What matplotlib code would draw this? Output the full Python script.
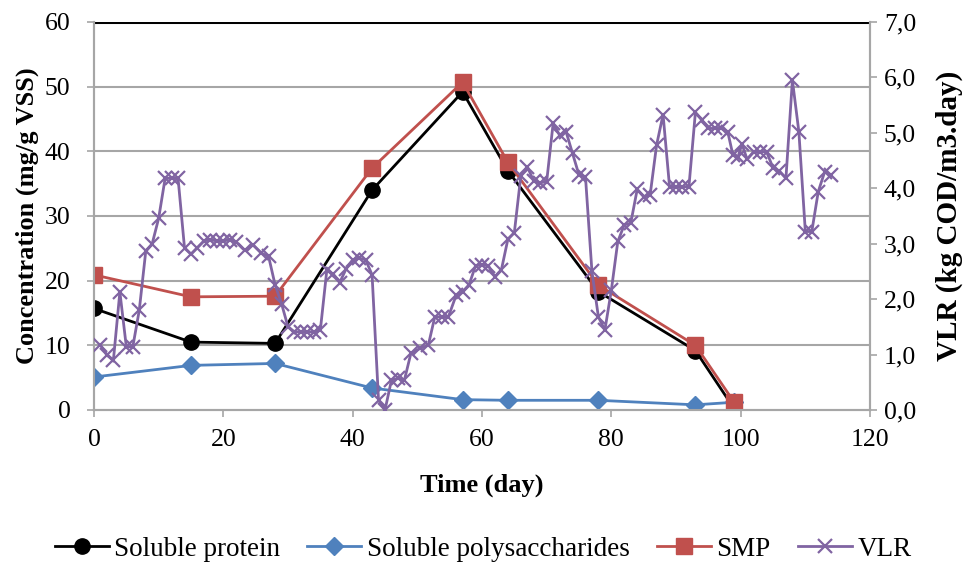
import matplotlib
matplotlib.use("Agg")
import matplotlib.pyplot as plt
from matplotlib.ticker import FuncFormatter

plt.rcParams['font.family'] = ['Liberation Serif', 'DejaVu Serif']

# Sampling days for the concentration series
days = [0, 15, 28, 43, 57, 64, 78, 93, 99]
protein = [15.7, 10.5, 10.3, 34.0, 49.2, 37.0, 18.3, 9.2, 0.2]
polysaccharides = [5.1, 6.9, 7.2, 3.4, 1.6, 1.5, 1.5, 0.8, 1.2]
smp = [20.9, 17.5, 17.6, 37.4, 50.7, 38.3, 19.3, 10.0, 1.2]

# VLR series
vlr_days = [1, 2, 3, 4, 5, 6, 7, 8, 9, 10, 11, 12, 13, 14, 15, 16, 17, 18, 19, 20,
            21, 22, 23.3, 24.6, 25.9, 27, 28, 29, 30, 31, 32, 33, 34, 35, 36, 37, 38,
            39, 40, 41, 42, 43, 44, 45, 46, 47, 48, 49, 50.4, 51.7, 52.7, 53.8, 54.8,
            56, 57, 58, 59, 60, 61, 62, 63, 64, 65, 66, 67, 68, 69, 70, 71, 72, 73,
            74, 75, 76, 77, 78, 79, 80, 81, 82, 83, 84, 85, 86, 87, 88, 89, 90, 91,
            92, 93, 94, 95, 96, 97, 98, 98.8, 99.6, 100.2, 101, 102, 103, 104, 105,
            106, 107, 108, 109, 110, 111, 112, 113, 114]
vlr = [1.17, 0.99, 0.90, 2.13, 1.14, 1.14, 1.80, 2.86, 3.00, 3.46, 4.18, 4.18, 4.18,
       2.92, 2.81, 2.93, 3.05, 3.07, 3.05, 3.05, 3.07, 3.03, 2.88, 2.98, 2.83, 2.77,
       2.26, 1.92, 1.50, 1.41, 1.41, 1.41, 1.41, 1.44, 2.52, 2.45, 2.30, 2.55, 2.71,
       2.74, 2.71, 2.44, 0.18, 0.00, 0.54, 0.57, 0.54, 1.02, 1.11, 1.17, 1.68, 1.68,
       1.68, 2.07, 2.13, 2.26, 2.60, 2.62, 2.60, 2.40, 2.53, 3.08, 3.20, 4.22, 4.39,
       4.13, 4.10, 4.12, 5.17, 4.96, 5.02, 4.63, 4.24, 4.21, 2.50, 1.68, 1.44, 2.16,
       3.04, 3.34, 3.37, 3.98, 3.85, 3.88, 4.78, 5.33, 4.03, 4.03, 4.03, 4.03, 5.37,
       5.23, 5.08, 5.08, 5.08, 5.02, 4.60, 4.57, 4.80, 4.52, 4.66, 4.66, 4.66, 4.37,
       4.31, 4.18, 5.95, 5.02, 3.22, 3.22, 3.94, 4.30, 4.24]

x_ticks = [0, 20, 40, 60, 80, 100, 120]
left_ticks = [0, 10, 20, 30, 40, 50, 60]
right_ticks = [0, 1, 2, 3, 4, 5, 6, 7]

fig = plt.figure(figsize=(9.66, 5.69), dpi=100)
ax = fig.add_axes([94/966, 1-410/569, (870-94)/966, (410-22)/569])
ax2 = ax.twinx()

grid_c = '#a6a6a6'
fs_tick = 18.5
fs_lab = 19

# gridlines
for t in left_ticks[1:-1]:
    ax.axhline(t, color=grid_c, lw=1.5, zorder=0)
ax.axhline(60, color='black', lw=2.2, zorder=0)

l1, = ax.plot(days, protein, color='black', lw=2, marker='o', markersize=11,
              label='Soluble protein', zorder=3)
l2, = ax.plot(days, polysaccharides, color='#4F81BD', lw=2, marker='D', markersize=9,
              label='Soluble polysaccharides', zorder=3)
l3, = ax.plot(days, smp, color='#C0504D', lw=2, marker='s', markersize=11,
              label='SMP', zorder=3)
l4, = ax2.plot(vlr_days, vlr, color='#8064A2', lw=2, marker='x', markersize=10,
               markeredgewidth=1.6, label='VLR', zorder=3)

ax.set_xlim(0, 120)
ax.set_ylim(0, 60)
ax2.set_ylim(0, 7)
ax.set_xticks(x_ticks)
ax.set_yticks(left_ticks)
ax2.set_yticks(right_ticks)
ax2.yaxis.set_major_formatter(FuncFormatter(lambda v, p: f"{v:.1f}".replace('.', ',')))

for a in (ax, ax2):
    a.tick_params(labelsize=fs_tick, direction='out', length=5, width=1.2, color=grid_c)
    for s in a.spines.values():
        s.set_color(grid_c)
        s.set_linewidth(1.5)
    a.spines['top'].set_visible(False)
ax.tick_params(axis='x', pad=9)
ax.tick_params(axis='y', pad=12)
ax2.tick_params(axis='y', pad=5)

ax.set_xlabel('Time (day)', fontsize=fs_lab, fontweight='bold', labelpad=16)
ax.set_ylabel('Concentration (mg/g VSS)', fontsize=fs_lab, fontweight='bold', labelpad=4)
ax2.set_ylabel('VLR (kg COD/m3.day)', fontsize=21, fontweight='bold', labelpad=14)

fig.legend(handles=[l1, l2, l3, l4], loc='lower center', bbox_to_anchor=(0.5, -0.03),
           ncol=4, frameon=False, fontsize=19.5, handlelength=2.0, columnspacing=1.0,
           handletextpad=0.2)

fig.savefig('out.png', dpi=100)
